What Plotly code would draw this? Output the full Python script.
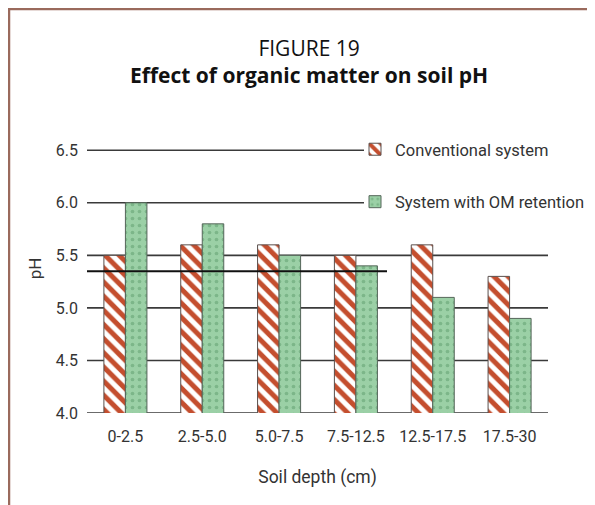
import plotly.graph_objects as go

depths = ["0-2.5", "2.5-5.0", "5.0-7.5", "7.5-12.5", "12.5-17.5", "17.5-30"]
conventional = [5.5, 5.6, 5.6, 5.5, 5.6, 5.3]
om_retention = [6.0, 5.8, 5.5, 5.4, 5.1, 4.9]
y_ticks = [4.0, 4.5, 5.0, 5.5, 6.0, 6.5]
stray_line_y = 5.35

# figure size (the page adds an 8px body margin)
W, H = 587, 497
# plot box in figure pixels
L, R, T, B = 79, 540, 116, 405


def px_x(p):
    return (p - L) / (R - L)


def px_y(p):
    return (B - p) / (B - T)


axis_font = "Roboto, Arial"
title_font = "Open Sans, Noto Sans"

fig = go.Figure()
fig.add_trace(go.Bar(
    x=depths, y=conventional, name="Conventional system",
    legendgroup="a",
    marker=dict(color="white", line=dict(color="#5a4f4c", width=1),
                pattern=dict(shape="\\", fgcolor="#c44e2e", bgcolor="#ffffff",
                             fgopacity=1, size=10, solidity=0.5)),
))
fig.add_trace(go.Bar(
    x=depths, y=om_retention, name="System with OM retention",
    legendgroup="b",
    marker=dict(color="#8fc79c", line=dict(color="#55665a", width=1),
                pattern=dict(shape=".", fgcolor="#5e9c6c", bgcolor="#9bd0a6",
                             size=7, solidity=0.22)),
))

shapes = []
for v in y_ticks:
    x1 = px_x(356) if v >= 6.0 else 1.0
    shapes.append(dict(type="line", xref="paper", yref="y", x0=0, x1=x1,
                       y0=v, y1=v, layer="below",
                       line=dict(color="#3a3a3a", width=1.6)))
# dark line across the left part of the chart
shapes.append(dict(type="line", xref="paper", yref="y", x0=0, x1=px_x(379),
                   y0=stray_line_y, y1=stray_line_y, layer="above",
                   line=dict(color="#111111", width=2)))
# brown frame (left and top)
frame = "#9a6a5c"
shapes.append(dict(type="line", xref="paper", yref="paper",
                   x0=px_x(1), x1=px_x(1), y0=px_y(0), y1=px_y(H + 10),
                   line=dict(color=frame, width=2.5)))
shapes.append(dict(type="line", xref="paper", yref="paper",
                   x0=px_x(0), x1=px_x(W + 10), y0=px_y(1), y1=px_y(1),
                   line=dict(color=frame, width=2.5)))

annotations = [
    dict(text="FIGURE 19<br><b>Effect of organic matter on soil pH</b>",
         xref="paper", yref="paper", x=px_x(301), y=px_y(53),
         xanchor="center", yanchor="middle", align="center", showarrow=False,
         font=dict(family=title_font, size=21, color="#111")),
]

fig.update_layout(
    width=W, height=H,
    margin=dict(l=L, r=W - R, t=T, b=H - B, autoexpand=False),
    paper_bgcolor="white", plot_bgcolor="white",
    barmode="group", bargap=0.44, bargroupgap=0.0,
    shapes=shapes, annotations=annotations,
    font=dict(family=axis_font, size=16, color="#333"),
    legend=dict(x=px_x(347), y=px_y(124), xanchor="left", yanchor="top",
                traceorder="grouped", tracegroupgap=28,
                bgcolor="rgba(0,0,0,0)", font=dict(size=16.5, color="#333")),
    xaxis=dict(showgrid=False, showline=False, ticks="", automargin=False,
               tickangle=0, ticklabelstandoff=12,
               title=dict(text="Soil depth (cm)", standoff=25, font=dict(size=17.5)),
               tickfont=dict(size=16)),
    yaxis=dict(range=[4.0, 6.75], tickvals=y_ticks,
               ticktext=[f"{v:.1f}" for v in y_ticks],
               showgrid=False, zeroline=False, showline=False, ticks="",
               automargin=False, ticklabelstandoff=8, tickfont=dict(size=16),
               title=dict(text="pH", standoff=9, font=dict(size=17))),
)

fig.write_html("out.html")
